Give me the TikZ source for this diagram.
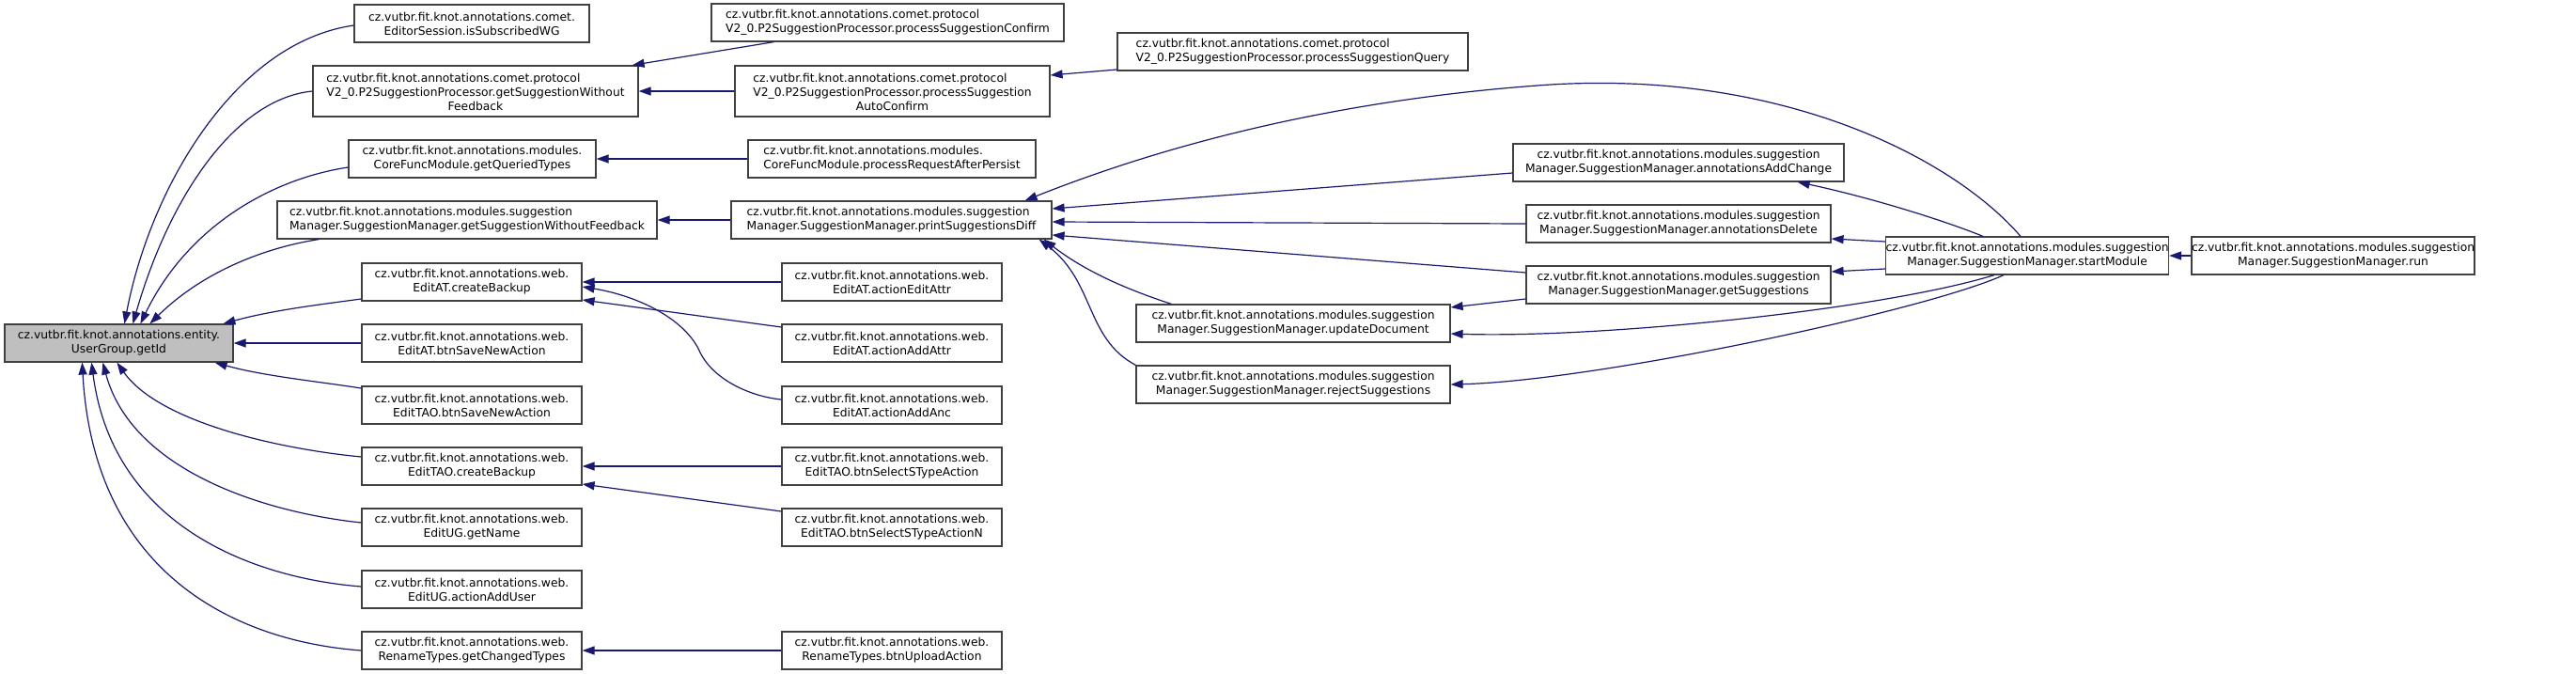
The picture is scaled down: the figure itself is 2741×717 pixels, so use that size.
\documentclass[tikz,border=0pt]{standalone}
\usepackage{fontspec}
\setmainfont{DejaVu Sans}
\usetikzlibrary{arrows.meta}
\definecolor{edgecol}{HTML}{191970}
\definecolor{boxcol}{HTML}{404040}
\definecolor{rootfill}{HTML}{BFBFBF}
\begin{document}
\begin{tikzpicture}[x=1pt,y=-1pt,
  every node/.style={font=\fontsize{12.3}{15}\selectfont},
  fn/.style={draw=boxcol, line width=1.2pt, fill=white, rectangle, inner sep=0pt, align=center, minimum height=40pt},
  rootnode/.style={fn, fill=rootfill},
  edge/.style={draw=edgecol, line width=1.2pt, {Triangle[length=13pt,width=9pt]}-}]
\useasboundingbox[fill=white] (0,0) rectangle (2741,717);
% column 1
\node[rootnode, minimum width=243pt] (root) at (126.5,365) {cz.vutbr.fit.knot.annotations.entity.\\UserGroup.getId};
% column 2
\node[fn, minimum width=250pt] (isSub) at (502,25) {cz.vutbr.fit.knot.annotations.comet.\\EditorSession.isSubscribedWG};
\node[fn, minimum width=346pt, minimum height=54pt] (P2swf) at (506,97) {\begin{tabular}{@{}l@{}}cz.vutbr.fit.knot.annotations.comet.protocol\\V2\_0.P2SuggestionProcessor.getSuggestionWithout\end{tabular}\\Feedback};
\node[fn, minimum width=263pt] (getQT) at (502.5,169) {cz.vutbr.fit.knot.annotations.modules.\\CoreFuncModule.getQueriedTypes};
\node[fn, minimum width=404pt, align=left] (SMswf) at (497,234) {cz.vutbr.fit.knot.annotations.modules.suggestion\\Manager.SuggestionManager.getSuggestionWithoutFeedback};
\node[fn, minimum width=234pt] (ATcb) at (502,300) {cz.vutbr.fit.knot.annotations.web.\\EditAT.createBackup};
\node[fn, minimum width=234pt] (ATsave) at (502,365) {cz.vutbr.fit.knot.annotations.web.\\EditAT.btnSaveNewAction};
\node[fn, minimum width=234pt] (TAOsave) at (502,431) {cz.vutbr.fit.knot.annotations.web.\\EditTAO.btnSaveNewAction};
\node[fn, minimum width=234pt] (TAOcb) at (502,496) {cz.vutbr.fit.knot.annotations.web.\\EditTAO.createBackup};
\node[fn, minimum width=234pt] (UGname) at (502,561) {cz.vutbr.fit.knot.annotations.web.\\EditUG.getName};
\node[fn, minimum width=234pt] (UGadd) at (502,627) {cz.vutbr.fit.knot.annotations.web.\\EditUG.actionAddUser};
\node[fn, minimum width=234pt] (RTgct) at (502,692) {cz.vutbr.fit.knot.annotations.web.\\RenameTypes.getChangedTypes};
% column 3
\node[fn, minimum width=375pt, align=left] (conf) at (944.5,24) {cz.vutbr.fit.knot.annotations.comet.protocol\\V2\_0.P2SuggestionProcessor.processSuggestionConfirm};
\node[fn, minimum width=335pt, minimum height=54pt] (auto) at (949.5,97) {\begin{tabular}{@{}l@{}}cz.vutbr.fit.knot.annotations.comet.protocol\\V2\_0.P2SuggestionProcessor.processSuggestion\end{tabular}\\AutoConfirm};
\node[fn, minimum width=306pt, align=left] (rap) at (949,169) {cz.vutbr.fit.knot.annotations.modules.\\CoreFuncModule.processRequestAfterPersist};
\node[fn, minimum width=341pt, align=left] (psd) at (948.5,234) {cz.vutbr.fit.knot.annotations.modules.suggestion\\Manager.SuggestionManager.printSuggestionsDiff};
\node[fn, minimum width=234pt] (editAttr) at (949,300) {cz.vutbr.fit.knot.annotations.web.\\EditAT.actionEditAttr};
\node[fn, minimum width=234pt] (addAttr) at (949,365) {cz.vutbr.fit.knot.annotations.web.\\EditAT.actionAddAttr};
\node[fn, minimum width=234pt] (addAnc) at (949,431) {cz.vutbr.fit.knot.annotations.web.\\EditAT.actionAddAnc};
\node[fn, minimum width=234pt] (selS) at (949,496) {cz.vutbr.fit.knot.annotations.web.\\EditTAO.btnSelectSTypeAction};
\node[fn, minimum width=234pt] (selSN) at (949,561) {cz.vutbr.fit.knot.annotations.web.\\EditTAO.btnSelectSTypeActionN};
\node[fn, minimum width=234pt] (upload) at (949,692) {cz.vutbr.fit.knot.annotations.web.\\RenameTypes.btnUploadAction};
% column 4
\node[fn, minimum width=373pt, align=left] (query) at (1375.5,55) {cz.vutbr.fit.knot.annotations.comet.protocol\\V2\_0.P2SuggestionProcessor.processSuggestionQuery};
\node[fn, minimum width=334pt] (upDoc) at (1376,344) {cz.vutbr.fit.knot.annotations.modules.suggestion\\Manager.SuggestionManager.updateDocument};
\node[fn, minimum width=334pt] (reject) at (1376,409) {cz.vutbr.fit.knot.annotations.modules.suggestion\\Manager.SuggestionManager.rejectSuggestions};
% column 5
\node[fn, minimum width=352pt] (addChange) at (1786,173) {cz.vutbr.fit.knot.annotations.modules.suggestion\\Manager.SuggestionManager.annotationsAddChange};
\node[fn, minimum width=324pt] (delete) at (1786,238) {cz.vutbr.fit.knot.annotations.modules.suggestion\\Manager.SuggestionManager.annotationsDelete};
\node[fn, minimum width=324pt] (getSugg) at (1786,303) {cz.vutbr.fit.knot.annotations.modules.suggestion\\Manager.SuggestionManager.getSuggestions};
% column 6, 7
\node[fn, minimum width=300pt] (start) at (2157,272) {cz.vutbr.fit.knot.annotations.modules.suggestion\\Manager.SuggestionManager.startModule};
\node[fn, minimum width=271pt] (run) at (2482.5,272) {cz.vutbr.fit.knot.annotations.modules.suggestion\\Manager.SuggestionManager.run};

% edges into root
\draw[edge] ([xshift=128pt]root.north west) .. controls (160,200) and (250,45) .. ([yshift=-2pt]isSub.west);
\draw[edge] ([xshift=137pt]root.north west) .. controls (180,210) and (250,105) .. (P2swf.west);
\draw[edge] ([xshift=145pt]root.north west) .. controls (200,240) and (290,190) .. ([yshift=-9pt]getQT.west);
\draw[edge] ([xshift=155pt]root.north west) .. controls (220,285) and (290,262) .. ([xshift=45pt]SMswf.south west);
\draw[edge] ([xshift=233pt]root.north west) .. controls (290,330) and (340,324) .. ([yshift=-18pt]ATcb.west);
\draw[edge] (root.east) -- (ATsave.west);
\draw[edge] ([xshift=-20pt]root.south east) .. controls (280,400) and (340,406) .. ([yshift=18pt]TAOsave.west);
\draw[edge] ([xshift=120pt]root.south west) .. controls (170,450) and (300,478) .. ([yshift=10pt]TAOcb.west);
\draw[edge] ([xshift=105pt]root.south west) .. controls (140,500) and (280,545) .. ([yshift=5pt]UGname.west);
\draw[edge] ([xshift=93pt]root.south west) .. controls (120,560) and (270,615) .. ([yshift=3pt]UGadd.west);
\draw[edge] ([xshift=83pt]root.south west) .. controls (100,610) and (250,682) .. (RTgct.west);
% column 2 <- column 3
\draw[edge] ([xshift=-7pt]P2swf.north east) -- ([xshift=-121pt]conf.south);
\draw[edge] (P2swf.east) -- (auto.west);
\draw[edge] ([yshift=17pt]auto.east) -- ([yshift=-19pt]query.west);
\draw[edge] (getQT.east) -- (rap.west);
\draw[edge] (SMswf.east) -- (psd.west);
\draw[edge] (ATcb.east) -- (editAttr.west);
\draw[edge] ([yshift=-19pt]ATcb.east) -- ([yshift=17pt]addAttr.west);
\draw[edge] ([yshift=-5pt]ATcb.east) .. controls (680,315) and (730,340) .. (745,375) .. controls (760,405) and (800,422) .. ([yshift=6pt]addAnc.west);
\draw[edge] (TAOcb.east) -- (selS.west);
\draw[edge] ([yshift=-19pt]TAOcb.east) -- ([yshift=17pt]selSN.west);
\draw[edge] (RTgct.east) -- (upload.west);
% printSuggestionsDiff callers
\draw[edge] ([xshift=-29pt]psd.north east) .. controls (1300,130) and (1500,100) .. (1650,90) .. controls (1900,75) and (2080,170) .. ([xshift=-7pt]start.north);
\draw[edge] ([yshift=12pt]psd.east) -- ([yshift=-11pt]addChange.west);
\draw[edge] ([yshift=-2pt]psd.east) -- (delete.west);
\draw[edge] ([yshift=-16pt]psd.east) -- ([yshift=13pt]getSugg.west);
\draw[edge] ([xshift=-9pt]psd.south east) .. controls (1150,285) and (1190,305) .. ([xshift=38pt]upDoc.north west);
\draw[edge] ([xshift=-14pt]psd.south east) .. controls (1165,300) and (1155,360) .. (reject.north west);
% startModule callers
\draw[edge] ([xshift=-50pt]addChange.south east) .. controls (1990,210) and (2070,235) .. ([xshift=-47pt]start.north);
\draw[edge] ([yshift=-16pt]delete.east) -- ([yshift=15pt]start.west);
\draw[edge] ([yshift=14pt]getSugg.east) -- ([yshift=-14pt]start.west);
\draw[edge] ([yshift=17pt]upDoc.east) -- ([yshift=-15pt]getSugg.west);
\draw[edge] ([yshift=-11pt]upDoc.east) .. controls (1700,360) and (2000,330) .. ([xshift=-35pt]start.south);
\draw[edge] (reject.east) .. controls (1700,405) and (2050,330) .. ([xshift=-25pt]start.south);
\draw[edge] (start.east) -- (run.west);
\end{tikzpicture}
\end{document}
